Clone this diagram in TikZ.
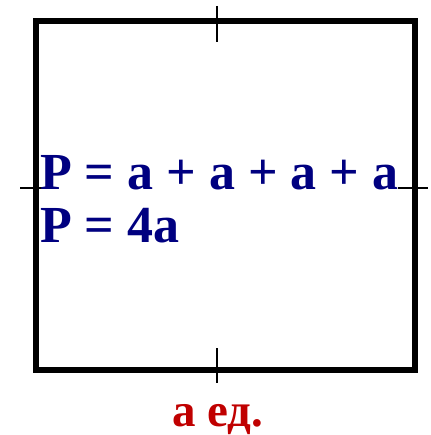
\documentclass[tikz,border=0pt]{standalone}
\usepackage{fontspec}
\setmainfont{Liberation Serif}
\definecolor{navy}{HTML}{000080}
\definecolor{dred}{HTML}{C00000}
\begin{document}
\begin{tikzpicture}[x=1pt,y=-1pt,
  frame/.style={line width=6pt,line join=miter},
  tick/.style={line width=1.5pt},
  formula/.style={inner sep=0pt,anchor=base west,text=navy,font=\fontsize{52}{60}\selectfont\bfseries},
  unit/.style={inner sep=0pt,anchor=base west,text=dred,font=\fontsize{47}{55}\selectfont\bfseries}]
\useasboundingbox (0,0) rectangle (430,435);
\coordinate (tl) at (36,21.5);
\coordinate (br) at (415,369.5);
\draw[frame] (tl) rectangle (br);
\coordinate (t1) at (217,6); \coordinate (t2) at (217,42);
\coordinate (b1) at (217,348); \coordinate (b2) at (217,383);
\coordinate (l1) at (20,188); \coordinate (l2) at (52,188);
\coordinate (r1) at (398,188); \coordinate (r2) at (428,188);
\draw[tick] (t1) -- (t2);
\draw[tick] (b1) -- (b2);
\draw[tick] (l1) -- (l2);
\draw[tick] (r1) -- (r2);
\node[formula] (f1) at (40,190) {P = a + a + a + a};
\node[formula] (f2) at (40,242) {P = 4a};
\node[unit] (u) at (172,426) {а ед.};
\end{tikzpicture}
\end{document}
